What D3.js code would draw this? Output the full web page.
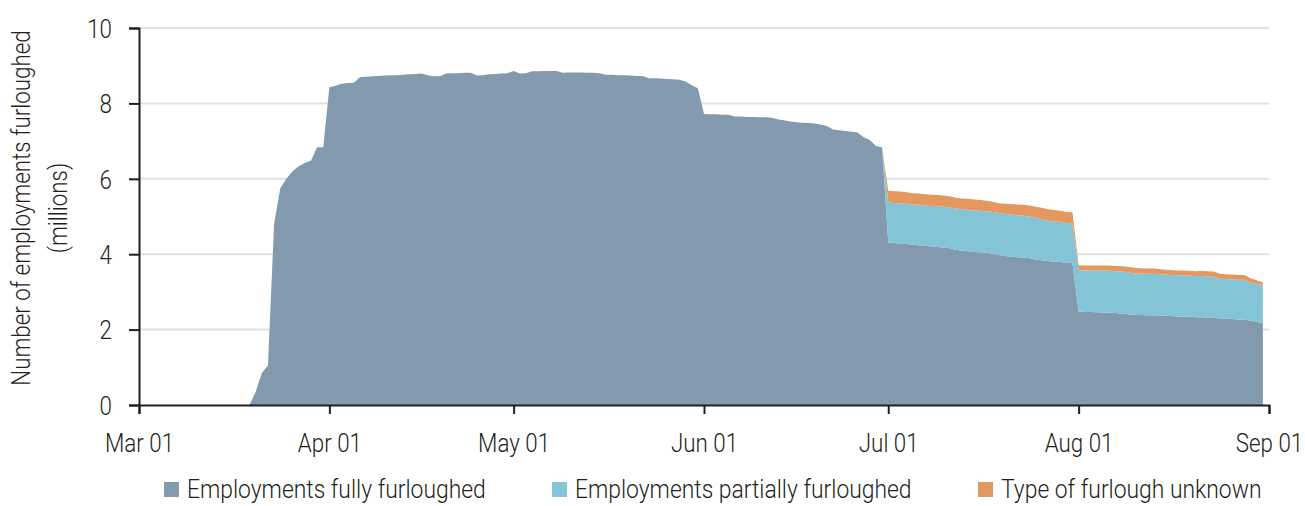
<!DOCTYPE html>
<html>
<head>
<meta charset="utf-8">
<script src="https://cdn.jsdelivr.net/npm/d3@7"></script>
<style>
  body { margin: 0; background: #fff; }
  text { font-family: Roboto, "DejaVu Sans Condensed", sans-serif; font-weight: 300; fill: #231f20; }
</style>
</head>
<body>
<svg id="chart"></svg>
<script>
var width = 1305,
    height = 506,
    margin = {top: 28, right: 36, bottom: 101, left: 139}

// condensed look: narrow every text a bit
var squeeze = 0.86
var legendSqueeze = 0.88

// daily values, Mar 01 .. Aug 31 2020, millions
var startDate = new Date(2020, 2, 1)
var endDate = new Date(2020, 8, 1)

var fully = [
  0, 0, 0, 0, 0, 0, 0, 0, 0, 0,
  0, 0, 0, 0, 0, 0, 0, 0, 0, 0.35,
  0.85, 1.05, 4.8, 5.75, 6.0, 6.2, 6.33, 6.42, 6.48, 6.84,
  6.84, 8.43, 8.47, 8.52, 8.54, 8.55, 8.70, 8.71, 8.72, 8.73,
  8.74, 8.75, 8.75, 8.76, 8.77, 8.78, 8.79, 8.75, 8.72, 8.72,
  8.79, 8.80, 8.80, 8.81, 8.81, 8.74, 8.75, 8.77, 8.78, 8.79,
  8.80, 8.86, 8.79, 8.80, 8.85, 8.85, 8.86, 8.86, 8.86, 8.81,
  8.82, 8.82, 8.82, 8.81, 8.81, 8.80, 8.76, 8.76, 8.75, 8.75,
  8.74, 8.73, 8.73, 8.67, 8.67, 8.66, 8.65, 8.64, 8.63, 8.58,
  8.48, 8.40, 7.72, 7.71, 7.71, 7.70, 7.70, 7.65, 7.65, 7.64,
  7.64, 7.63, 7.63, 7.62, 7.58, 7.55, 7.52, 7.50, 7.49, 7.48,
  7.47, 7.44, 7.40, 7.31, 7.29, 7.27, 7.25, 7.23, 7.10, 7.03,
  6.87, 6.83, 4.31, 4.30, 4.28, 4.27, 4.25, 4.24, 4.22, 4.21,
  4.19, 4.18, 4.16, 4.12, 4.09, 4.08, 4.06, 4.05, 4.04, 4.01,
  3.98, 3.95, 3.93, 3.92, 3.91, 3.89, 3.86, 3.84, 3.82, 3.80,
  3.79, 3.77, 3.76, 2.48, 2.47, 2.47, 2.46, 2.45, 2.45, 2.44,
  2.43, 2.41, 2.39, 2.39, 2.38, 2.38, 2.37, 2.37, 2.36, 2.35,
  2.35, 2.34, 2.33, 2.33, 2.32, 2.31, 2.30, 2.29, 2.28, 2.27,
  2.26, 2.24, 2.21, 2.17
]

var partially = [
  0, 0, 0, 0, 0, 0, 0, 0, 0, 0,
  0, 0, 0, 0, 0, 0, 0, 0, 0, 0,
  0, 0, 0, 0, 0, 0, 0, 0, 0, 0,
  0, 0, 0, 0, 0, 0, 0, 0, 0, 0,
  0, 0, 0, 0, 0, 0, 0, 0, 0, 0,
  0, 0, 0, 0, 0, 0, 0, 0, 0, 0,
  0, 0, 0, 0, 0, 0, 0, 0, 0, 0,
  0, 0, 0, 0, 0, 0, 0, 0, 0, 0,
  0, 0, 0, 0, 0, 0, 0, 0, 0, 0,
  0, 0, 0, 0, 0, 0, 0, 0, 0, 0,
  0, 0, 0, 0, 0, 0, 0, 0, 0, 0,
  0, 0, 0, 0, 0, 0, 0, 0, 0, 0,
  0, 0, 1.06, 1.06, 1.07, 1.07, 1.07, 1.07, 1.07, 1.07,
  1.08, 1.08, 1.08, 1.09, 1.10, 1.10, 1.10, 1.10, 1.10, 1.11,
  1.11, 1.12, 1.12, 1.11, 1.11, 1.11, 1.11, 1.09, 1.07, 1.07,
  1.07, 1.06, 1.06, 1.10, 1.10, 1.10, 1.11, 1.11, 1.11, 1.11,
  1.11, 1.11, 1.10, 1.10, 1.10, 1.10, 1.10, 1.09, 1.09, 1.09,
  1.09, 1.09, 1.09, 1.09, 1.09, 1.09, 1.05, 1.05, 1.05, 1.05,
  1.06, 1.00, 1.00, 1.01
]

var unknown = [
  0, 0, 0, 0, 0, 0, 0, 0, 0, 0,
  0, 0, 0, 0, 0, 0, 0, 0, 0, 0,
  0, 0, 0, 0, 0, 0, 0, 0, 0, 0,
  0, 0, 0, 0, 0, 0, 0, 0, 0, 0,
  0, 0, 0, 0, 0, 0, 0, 0, 0, 0,
  0, 0, 0, 0, 0, 0, 0, 0, 0, 0,
  0, 0, 0, 0, 0, 0, 0, 0, 0, 0,
  0, 0, 0, 0, 0, 0, 0, 0, 0, 0,
  0, 0, 0, 0, 0, 0, 0, 0, 0, 0,
  0, 0, 0, 0, 0, 0, 0, 0, 0, 0,
  0, 0, 0, 0, 0, 0, 0, 0, 0, 0,
  0, 0, 0, 0, 0, 0, 0, 0, 0, 0,
  0, 0, 0.31, 0.31, 0.31, 0.30, 0.30, 0.30, 0.30, 0.30,
  0.30, 0.30, 0.30, 0.29, 0.29, 0.29, 0.29, 0.29, 0.28, 0.27,
  0.26, 0.27, 0.28, 0.29, 0.29, 0.29, 0.29, 0.30, 0.30, 0.30,
  0.29, 0.29, 0.29, 0.13, 0.13, 0.13, 0.13, 0.14, 0.14, 0.14,
  0.14, 0.15, 0.15, 0.14, 0.14, 0.14, 0.14, 0.13, 0.13, 0.13,
  0.13, 0.13, 0.13, 0.14, 0.14, 0.14, 0.13, 0.13, 0.13, 0.13,
  0.13, 0.12, 0.10, 0.07
]

var seriesKeys = ["fully", "partially", "unknown"]
var seriesLabels = ["Employments fully furloughed", "Employments partially furloughed", "Type of furlough unknown"]
var seriesColors = ["#8299ae", "#83c5d6", "#e4985f"]
var yTicks = [0, 2, 4, 6, 8, 10]
var xTicks = [new Date(2020, 2, 1), new Date(2020, 3, 1), new Date(2020, 4, 1),
              new Date(2020, 5, 1), new Date(2020, 6, 1), new Date(2020, 7, 1), new Date(2020, 8, 1)]

var days = d3.timeDay.range(startDate, endDate)
var table = days.map(function(d, i) {
  return {date: d, fully: fully[i], partially: partially[i], unknown: unknown[i]}
})

var svg = d3.select("#chart")
  .attr("width", width)
  .attr("height", height)

var x = d3.scaleTime()
  .domain([startDate, endDate])
  .range([margin.left, width - margin.right])

var y = d3.scaleLinear()
  .domain([0, 10])
  .range([height - margin.bottom, margin.top])

// gridlines
svg.append("g")
  .selectAll("line")
  .data(yTicks.slice(1))
  .enter()
  .append("line")
    .attr("x1", margin.left)
    .attr("x2", width - margin.right)
    .attr("y1", function(d) { return y(d) })
    .attr("y2", function(d) { return y(d) })
    .style("stroke", "#e1e1e1")
    .style("stroke-width", 2)

var stack = d3.stack().keys(seriesKeys)
var layers = stack(table)

var area = d3.area()
  .x(function(d) { return x(d.data.date) })
  .y0(function(d) { return y(d[0]) })
  .y1(function(d) { return y(d[1]) })

svg.append("g")
  .selectAll("path")
  .data(layers)
  .enter()
  .append("path")
    .attr("d", area)
    .style("fill", function(d, i) { return seriesColors[i] })

// axes
var yAxis = svg.append("g")
  .attr("transform", "translate(" + margin.left + ",0)")
  .call(d3.axisLeft(y).tickValues(yTicks).tickSize(10))

var xAxis = svg.append("g")
  .attr("transform", "translate(0," + y(0) + ")")
  .call(d3.axisBottom(x).tickValues(xTicks).tickSize(9)
    .tickFormat(d3.timeFormat("%b %d")))

svg.selectAll(".domain").style("stroke", "#231f20").style("stroke-width", 2)
svg.selectAll(".tick line").style("stroke", "#231f20").style("stroke-width", 2)
svg.selectAll(".tick text")
  .attr("font-family", null)
  .attr("font-size", null)
  .style("font-size", "26px")
  .style("fill", "#231f20")
  .attr("transform", "scale(" + squeeze + ",1)")

yAxis.selectAll(".tick text")
  .attr("x", -27 / squeeze)
  .attr("dy", "0.36em")

xAxis.selectAll(".tick text")
  .attr("y", 47)
  .attr("dy", 0)

// y axis title
var titleMid = 208
svg.append("text")
  .attr("transform", "translate(30," + titleMid + ") rotate(-90) scale(" + squeeze + ",1)")
  .attr("text-anchor", "middle")
  .style("font-size", "26px")
  .text("Number of employments furloughed")

svg.append("text")
  .attr("transform", "translate(67," + titleMid + ") rotate(-90) scale(" + squeeze + ",1)")
  .attr("text-anchor", "middle")
  .style("font-size", "26px")
  .text("(millions)")

// legend
var legendX = [164, 552, 978]
var legend = svg.append("g")
  .selectAll("g")
  .data(seriesLabels)
  .enter()
  .append("g")
    .attr("transform", function(d, i) { return "translate(" + legendX[i] + ",482)" })

legend.append("rect")
  .attr("width", 15)
  .attr("height", 15)
  .style("fill", function(d, i) { return seriesColors[i] })

legend.append("text")
  .attr("transform", "translate(23,16) scale(" + legendSqueeze + ",1)")
  .style("font-size", "26px")
  .text(function(d) { return d })
</script>
</body>
</html>
